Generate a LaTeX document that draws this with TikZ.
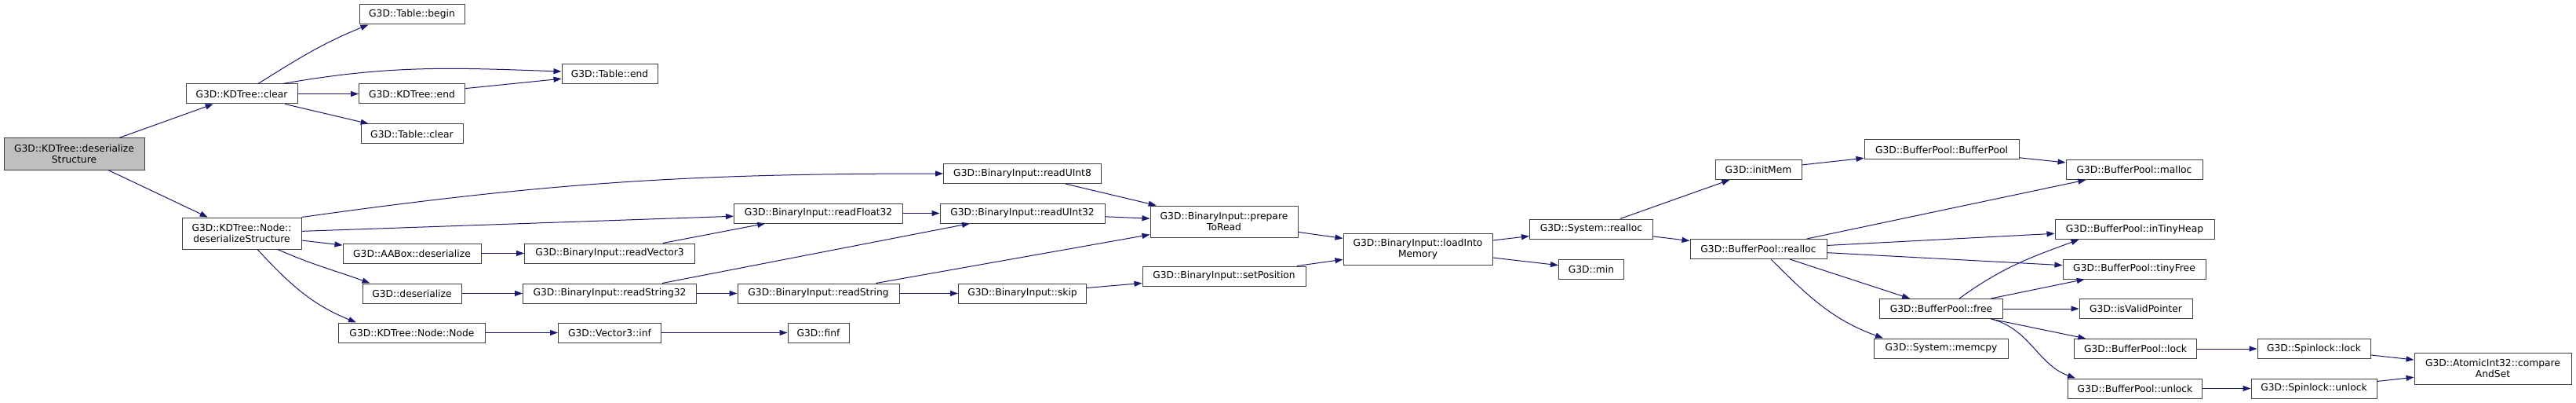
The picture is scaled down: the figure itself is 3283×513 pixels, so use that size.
\documentclass[tikz,border=0pt]{standalone}
\usepackage{fontspec}
\setmainfont{DejaVu Sans}
\usepackage{tikz}
\usetikzlibrary{calc}
\usetikzlibrary{arrows.meta}
\definecolor{edgeblue}{HTML}{191970}
\definecolor{boxline}{HTML}{404040}
\definecolor{rootfill}{HTML}{BFBFBF}
\tikzset{every picture/.style={line width=1pt},
  fn/.style={draw=boxline, fill=white, inner sep=0pt, minimum height=25pt, align=center, font=\fontsize{12.3}{14.7}\selectfont},
  twoline/.style={minimum height=40pt},
  calls/.style={draw=edgeblue, -{Triangle[length=10pt,width=7pt]}}}

\begin{document}
\begin{tikzpicture}[x=1pt,y=-1pt]
\useasboundingbox (0,0) rectangle (3283,513);
% functions, one column per call depth
\node (root) at (94.5,196) [fn, twoline, fill=rootfill, minimum width=179] {G3D::KDTree::deserialize\\Structure};
\node (clear) at (308,119.5) [fn, minimum width=142] {G3D::KDTree::clear};
\node (nodeds) at (308,297) [fn, twoline, minimum width=152] {G3D::KDTree::Node::\\deserializeStructure};
\node (tbegin) at (525,18.5) [fn, minimum width=134] {G3D::Table::begin};
\node (kdend) at (525,119.5) [fn, minimum width=135] {G3D::KDTree::end};
\node (tclear) at (525,170.5) [fn, minimum width=130] {G3D::Table::clear};
\node (aabox) at (525,322.5) [fn, minimum width=176] {G3D::AABox::deserialize};
\node (deser) at (525,373.5) [fn, minimum width=126] {G3D::deserialize};
\node (nnode) at (525,423.5) [fn, minimum width=187] {G3D::KDTree::Node::Node};
\node (tend) at (777,94) [fn, minimum width=122] {G3D::Table::end};
\node (readvec) at (777,322.5) [fn, minimum width=217] {G3D::BinaryInput::readVector3};
\node (readstr32) at (777,373.5) [fn, minimum width=221] {G3D::BinaryInput::readString32};
\node (vinf) at (777,423.5) [fn, minimum width=131] {G3D::Vector3::inf};
\node (readf32) at (1043,271.5) [fn, minimum width=215] {G3D::BinaryInput::readFloat32};
\node (readstr) at (1043,373.5) [fn, minimum width=206] {G3D::BinaryInput::readString};
\node (finf) at (1043,423.5) [fn, minimum width=78] {G3D::finf};
\node (readu8) at (1303,221) [fn, minimum width=201] {G3D::BinaryInput::readUInt8};
\node (readu32) at (1303,271.5) [fn, minimum width=210] {G3D::BinaryInput::readUInt32};
\node (binskip) at (1303,373.5) [fn, minimum width=163] {G3D::BinaryInput::skip};
\node (prep) at (1560,282) [fn, twoline, minimum width=188] {G3D::BinaryInput::prepare\\ToRead};
\node (setpos) at (1560,351.5) [fn, minimum width=208] {G3D::BinaryInput::setPosition};
\node (load) at (1807,317) [fn, twoline, minimum width=190] {G3D::BinaryInput::loadInto\\Memory};
\node (sysrealloc) at (2028,291.5) [fn, minimum width=157] {G3D::System::realloc};
\node (gmin) at (2028,342.5) [fn, minimum width=83] {G3D::min};
\node (initmem) at (2241,216) [fn, minimum width=110] {G3D::initMem};
\node (bprealloc) at (2241,317) [fn, minimum width=174] {G3D::BufferPool::realloc};
\node (bpbp) at (2474.5,190.5) [fn, minimum width=197] {G3D::BufferPool::BufferPool};
\node (bpfree) at (2474,393) [fn, minimum width=157] {G3D::BufferPool::free};
\node (memcpy) at (2474,443.5) [fn, minimum width=171] {G3D::System::memcpy};
\node (bpmalloc) at (2720,216) [fn, minimum width=174] {G3D::BufferPool::malloc};
\node (tinyheap) at (2720.5,292) [fn, minimum width=203] {G3D::BufferPool::inTinyHeap};
\node (tinyfree) at (2720,342.5) [fn, minimum width=182] {G3D::BufferPool::tinyFree};
\node (validptr) at (2722,393) [fn, minimum width=144] {G3D::isValidPointer};
\node (bplock) at (2721.5,444) [fn, minimum width=156] {G3D::BufferPool::lock};
\node (bpunlock) at (2721,494.5) [fn, minimum width=171] {G3D::BufferPool::unlock};
\node (splock) at (2949,444) [fn, minimum width=144] {G3D::Spinlock::lock};
\node (spunlock) at (2949,494.5) [fn, minimum width=160] {G3D::Spinlock::unlock};
\node (cas) at (3177,469) [fn, twoline, minimum width=200] {G3D::AtomicInt32::compare\\AndSet};

% straight calls
\foreach \a/\b in {root/clear, root/nodeds, clear/kdend, clear/tclear, kdend/tend,
  nodeds/readf32, nodeds/aabox, aabox/readvec, readvec/readf32, deser/readstr32,
  nnode/vinf, readstr32/readu32, readstr32/readstr, readf32/readu32, readu8/prep,
  readu32/prep, readstr/prep, readstr/binskip, binskip/setpos, vinf/finf, prep/load,
  setpos/load, load/sysrealloc, load/gmin, sysrealloc/initmem, sysrealloc/bprealloc,
  initmem/bpbp, bpbp/bpmalloc, bprealloc/bpmalloc, bprealloc/tinyheap,
  bprealloc/tinyfree, bprealloc/bpfree, bpfree/tinyfree, bpfree/validptr,
  bpfree/bplock, bplock/splock, bpunlock/spunlock, splock/cas, spunlock/cas} {
\draw[calls] (\a) -- (\b);
}
% bent calls
\draw[calls] ($(clear.north)+(21,0)$) to[out=32,in=202] ($(tbegin.south west)+(12,0)$);
\draw[calls] ($(clear.north east)+(-19,0)$) to[out=10,in=178] ($(tend.west)+(0,-3)$);
\draw[calls] (nodeds.north east) to[out=8,in=180] (readu8.west);
\draw[calls] ($(nodeds.south)+(46,0)$) to[out=-24,in=160] ($(deser.north west)+(10,0)$);
\draw[calls] ($(nodeds.south)+(20,0)$) to[out=-47,in=158] ($(nnode.north west)+(23,0)$);
\draw[calls] ($(bprealloc.south)+(16,0)$) to[out=-45,in=160] ($(memcpy.north west)+(12,0)$);
\draw[calls] ($(bpfree.north)+(23,0)$) to[out=36,in=200] ($(tinyheap.south west)+(31,0)$);
\draw[calls] ($(bpfree.south)+(64,0)$) to[out=-15,in=160] ($(bpunlock.north west)+(10,0)$);
\end{tikzpicture}
\end{document}
